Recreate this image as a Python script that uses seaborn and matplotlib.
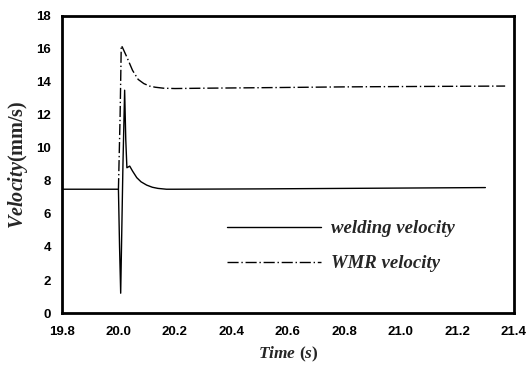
import numpy as np
import pandas as pd
import matplotlib
matplotlib.use("Agg")
import matplotlib.pyplot as plt
import seaborn as sns
from matplotlib.lines import Line2D

# Data
weld_t = [19.80, 19.90, 20.000, 20.004, 20.008, 20.016, 20.022, 20.026, 20.030, 20.040,
          20.050, 20.065, 20.080, 20.100, 20.120, 20.140, 20.170, 20.200, 20.500, 20.800, 21.000, 21.300]
weld_v = [7.5, 7.5, 7.5, 4.0, 1.2, 9.0, 13.5, 10.5, 8.8, 8.9,
          8.6, 8.2, 7.95, 7.75, 7.62, 7.55, 7.5, 7.5, 7.52, 7.55, 7.57, 7.6]
wmr_t = [20.000, 20.006, 20.010, 20.014, 20.030, 20.050, 20.070, 20.090, 20.110, 20.130,
         20.160, 20.200, 20.300, 20.500, 20.800, 21.000, 21.370]
wmr_v = [7.5, 12.0, 16.2, 16.1, 15.5, 14.7, 14.15, 13.9, 13.75, 13.68,
         13.62, 13.6, 13.62, 13.65, 13.7, 13.72, 13.75]
series_names = ["welding velocity", "WMR velocity"]
xticks = [19.8, 20.0, 20.2, 20.4, 20.6, 20.8, 21.0, 21.2, 21.4]
xtick_labels = ["19.8", "20.0", "20.2", "20.4", "20.6", "20.8", "21.0", "21.2", "21.4"]
yticks = [0, 2, 4, 6, 8, 10, 12, 14, 16, 18]

df = pd.concat([
    pd.DataFrame({"t": weld_t, "v": weld_v, "s": series_names[0]}),
    pd.DataFrame({"t": wmr_t, "v": wmr_v, "s": series_names[1]}),
])

sns.set_style("white")
plt.rcParams["mathtext.fontset"] = "custom"
plt.rcParams["mathtext.it"] = "Liberation Serif:italic:bold"
plt.rcParams["mathtext.rm"] = "Liberation Serif:bold"

fig = plt.figure(figsize=(5.27, 3.70), dpi=100)
ax = fig.add_axes([0.1176, 0.154, 0.857, 0.803])

sns.lineplot(data=df, x="t", y="v", hue="s", style="s",
             palette={series_names[0]: "black", series_names[1]: "black"},
             dashes={series_names[0]: "", series_names[1]: (8, 2, 1, 2)},
             linewidth=1.0, ax=ax, sort=False, estimator=None, legend=False)

ax.set_xlim(19.8, 21.4)
ax.set_ylim(0, 18)
ax.set_xticks(xticks)
ax.set_xticklabels(xtick_labels)
ax.set_yticks(yticks)
for lab in ax.get_xticklabels() + ax.get_yticklabels():
    lab.set_fontfamily("Liberation Sans")
    lab.set_fontweight("bold")
    lab.set_fontsize(9.5)
ax.tick_params(axis="x", direction="in", length=4, width=1, colors="black", pad=9)
ax.tick_params(axis="y", direction="in", length=4, width=1, colors="black", pad=8)
for sp in ax.spines.values():
    sp.set_linewidth(2.0)
    sp.set_color("black")

ax.set_xlabel(r"Time $(s)$", fontfamily="Liberation Serif", fontweight="bold",
              fontstyle="italic", fontsize=12.5, labelpad=5)
ax.set_ylabel(r"$Velocity$(mm/s)", fontfamily="Liberation Serif", fontweight="bold",
              fontsize=14.5, labelpad=4)

handles = [Line2D([], [], color="black", lw=1.0),
           Line2D([], [], color="black", lw=1.0, dashes=(8, 2, 1, 2))]
leg = ax.legend(handles, series_names, loc="lower left", bbox_to_anchor=(0.328, 0.08),
                frameon=False, handlelength=5.0, labelspacing=0.95, handletextpad=0.55,
                prop={"family": "Liberation Serif", "weight": "bold", "style": "italic", "size": 13.5})

fig.savefig("out.png", dpi=100, facecolor="white")
